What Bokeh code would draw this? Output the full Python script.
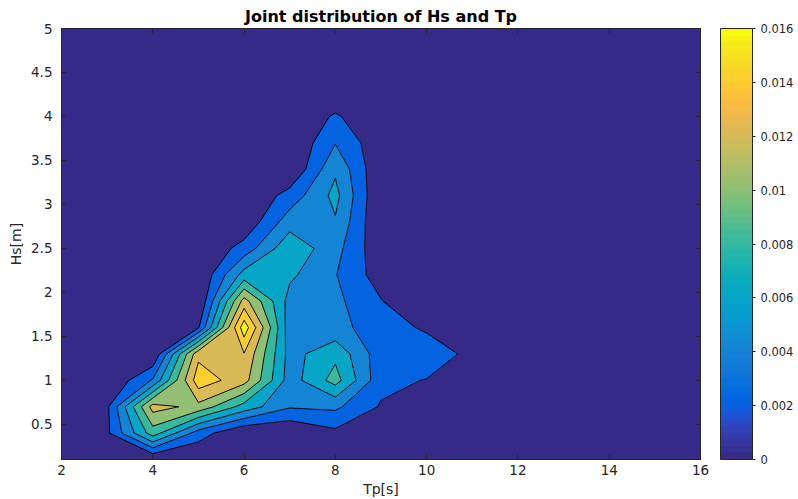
import numpy as np
from bokeh.plotting import figure
from bokeh.models import (ColorBar, LinearColorMapper, FixedTicker,
                          CustomJSTickFormatter, LinearAxis)
from bokeh.embed import file_html
from bokeh.resources import INLINE

# ---------------- data ----------------
tp = [2, 3, 4, 5, 6, 7, 8, 9, 10, 11, 12, 13, 14, 15, 16]
hs = [0.1, 0.4, 0.7, 1.0, 1.3, 1.6, 1.9, 2.2, 2.5, 2.8, 3.1, 3.4, 3.7, 4.0, 4.3, 4.6, 4.9]

# joint probability density per Tp column, one value per Hs row
dens_tp2 = [0, 0, 0, 0, 0, 0, 0, 0, 0, 0, 0, 0, 0, 0, 0, 0, 0]
dens_tp3 = [0.0003, 0.0016, 0.0016, 0, 0, 0, 0, 0, 0, 0, 0, 0, 0, 0, 0, 0, 0]
dens_tp4 = [0, 0.009, 0.0128, 0.0042, 0, 0, 0, 0, 0, 0, 0, 0, 0, 0, 0, 0, 0]
dens_tp5 = [0, 0.003, 0.0114, 0.0152, 0.01345, 0.0018, 0, 0, 0, 0, 0, 0, 0, 0, 0, 0, 0]
dens_tp6 = [0, 0, 0.0072, 0.0128, 0.0139, 0.0172, 0.0128, 0.0068, 0.0028, 0.0004, 0, 0, 0, 0, 0, 0, 0]
dens_tp7 = [0, 0, 0.0042, 0.005, 0.0052, 0.0048, 0.0052, 0.0064, 0.0075, 0.0051, 0.0028, 0, 0, 0, 0, 0, 0]
dens_tp8 = [0, 0.0015, 0.0044, 0.0088, 0.0075, 0.0045, 0.0045, 0.0041, 0.0047, 0.0058, 0.0066, 0.0057, 0.0039, 0.0023, 0, 0, 0]
dens_tp9 = [0, 0, 0.0018, 0.0026, 0.0028, 0.0032, 0.0021, 0.001, 0.0005, 0, 0, 0.0002, 0.0005, 0, 0, 0, 0]
dens_tp10 = [0, 0, 0, 0.0019, 0.0035, 0.0016, 0, 0, 0, 0, 0, 0, 0, 0, 0, 0, 0]
dens_tp11 = [0, 0, 0, 0, 0.0013, 0, 0, 0, 0, 0, 0, 0, 0, 0, 0, 0, 0]
dens_tp12 = [0, 0, 0, 0, 0, 0, 0, 0, 0, 0, 0, 0, 0, 0, 0, 0, 0]
dens_tp13 = [0, 0, 0, 0, 0, 0, 0, 0, 0, 0, 0, 0, 0, 0, 0, 0, 0]
dens_tp14 = [0, 0, 0, 0, 0, 0, 0, 0, 0, 0, 0, 0, 0, 0, 0, 0, 0]
dens_tp15 = [0, 0, 0, 0, 0, 0, 0, 0, 0, 0, 0, 0, 0, 0, 0, 0, 0]
dens_tp16 = [0, 0, 0, 0, 0, 0, 0, 0, 0, 0, 0, 0, 0, 0, 0, 0, 0]

contour_levels = [0.002, 0.004, 0.006, 0.008, 0.010, 0.012, 0.014, 0.016, 0.018]
x_ticks = [2, 4, 6, 8, 10, 12, 14, 16]
y_ticks = [0.5, 1, 1.5, 2, 2.5, 3, 3.5, 4, 4.5, 5]
cbar_ticks = [0, 0.002, 0.004, 0.006, 0.008, 0.01, 0.012, 0.014, 0.016]

# MATLAB parula (64 entries)
PARULA_RGB = [
    (0.2081, 0.1663, 0.5292), (0.2116, 0.1898, 0.5777), (0.2123, 0.2138, 0.6270), (0.2081, 0.2386, 0.6771),
    (0.1959, 0.2645, 0.7279), (0.1707, 0.2919, 0.7792), (0.1253, 0.3242, 0.8303), (0.0591, 0.3598, 0.8683),
    (0.0117, 0.3875, 0.8820), (0.0060, 0.4086, 0.8828), (0.0165, 0.4266, 0.8786), (0.0329, 0.4430, 0.8720),
    (0.0498, 0.4586, 0.8641), (0.0629, 0.4737, 0.8554), (0.0723, 0.4887, 0.8467), (0.0779, 0.5040, 0.8384),
    (0.0793, 0.5200, 0.8312), (0.0749, 0.5375, 0.8263), (0.0641, 0.5570, 0.8240), (0.0488, 0.5772, 0.8228),
    (0.0343, 0.5966, 0.8199), (0.0265, 0.6137, 0.8135), (0.0239, 0.6287, 0.8038), (0.0231, 0.6418, 0.7913),
    (0.0228, 0.6535, 0.7768), (0.0267, 0.6642, 0.7607), (0.0384, 0.6743, 0.7436), (0.0590, 0.6838, 0.7254),
    (0.0843, 0.6928, 0.7062), (0.1133, 0.7015, 0.6859), (0.1453, 0.7098, 0.6646), (0.1801, 0.7177, 0.6424),
    (0.2178, 0.7250, 0.6193), (0.2586, 0.7317, 0.5954), (0.3022, 0.7376, 0.5712), (0.3482, 0.7424, 0.5473),
    (0.3953, 0.7459, 0.5244), (0.4420, 0.7481, 0.5033), (0.4871, 0.7491, 0.4840), (0.5300, 0.7491, 0.4661),
    (0.5709, 0.7485, 0.4494), (0.6099, 0.7473, 0.4337), (0.6473, 0.7456, 0.4188), (0.6834, 0.7435, 0.4044),
    (0.7184, 0.7411, 0.3905), (0.7525, 0.7384, 0.3768), (0.7858, 0.7356, 0.3633), (0.8185, 0.7327, 0.3498),
    (0.8507, 0.7299, 0.3360), (0.8824, 0.7274, 0.3217), (0.9139, 0.7258, 0.3063), (0.9450, 0.7261, 0.2886),
    (0.9739, 0.7314, 0.2666), (0.9938, 0.7455, 0.2403), (0.9990, 0.7653, 0.2164), (0.9955, 0.7861, 0.1967),
    (0.9880, 0.8066, 0.1794), (0.9789, 0.8271, 0.1633), (0.9697, 0.8481, 0.1475), (0.9626, 0.8705, 0.1309),
    (0.9589, 0.8949, 0.1132), (0.9598, 0.9218, 0.0948), (0.9661, 0.9514, 0.0755), (0.9763, 0.9831, 0.0538),
]
PARULA = ["#%02x%02x%02x" % tuple(int(round(c * 255)) for c in rgb) for rgb in PARULA_RGB]

# ---------------- figure ----------------
AX = "#262626"
FONT = "DejaVu Sans"

z = np.array([dens_tp2, dens_tp3, dens_tp4, dens_tp5, dens_tp6, dens_tp7, dens_tp8,
              dens_tp9, dens_tp10, dens_tp11, dens_tp12, dens_tp13, dens_tp14,
              dens_tp15, dens_tp16], dtype=float).T

p = figure(width=798, height=499, x_range=(2, 16), y_range=(0.1, 5),
           output_backend="svg", toolbar_location=None,
           title="Joint distribution of Hs and Tp")
p.min_border_left = 61
p.min_border_right = 98
p.min_border_top = 28
p.min_border_bottom = 39
p.background_fill_color = PARULA[0]
p.border_fill_color = "white"
p.outline_line_color = AX
p.outline_line_width = 1
p.grid.visible = False

p.title.text_font = FONT
p.title.text_font_size = "16px"
p.title.text_font_style = "bold"
p.title.text_color = "black"
p.title.align = "center"
p.title.standoff = 5

fill_cols = [PARULA[8], PARULA[16], PARULA[24], PARULA[32], PARULA[40],
             PARULA[48], PARULA[56], PARULA[63]]
p.contour(tp, hs, z, contour_levels, fill_color=fill_cols,
          line_color="black", line_width=0.9)


def style_axis(ax, labels=True, size="13.5px", standoff=5):
    ax.major_tick_in = 5
    ax.major_tick_out = 0
    ax.minor_tick_line_color = None
    ax.axis_line_color = AX
    ax.major_tick_line_color = AX
    ax.major_label_text_font = FONT
    ax.major_label_text_font_size = size
    ax.major_label_standoff = standoff
    # box-side axes carry only tick marks; their labels are not painted
    ax.major_label_text_color = AX if labels else None


fmt = CustomJSTickFormatter(code="return tick.toString();")

xa = p.xaxis[0]
xa.ticker = FixedTicker(ticks=x_ticks)
xa.formatter = fmt
style_axis(xa)
xa.axis_label = "Tp[s]"
xa.axis_label_text_font = FONT
xa.axis_label_text_font_size = "14px"
xa.axis_label_text_font_style = "normal"
xa.axis_label_text_color = AX
xa.axis_label_standoff = 3

ya = p.yaxis[0]
ya.ticker = FixedTicker(ticks=y_ticks)
ya.formatter = fmt
style_axis(ya, standoff=9)
ya.axis_label = "Hs[m]"
ya.axis_label_text_font = FONT
ya.axis_label_text_font_size = "14px"
ya.axis_label_text_font_style = "normal"
ya.axis_label_text_color = AX
ya.axis_label_standoff = 4

top_ax = LinearAxis(ticker=FixedTicker(ticks=x_ticks), formatter=fmt)
style_axis(top_ax, labels=False, size="1px", standoff=0)
p.add_layout(top_ax, "above")

right_ax = LinearAxis(ticker=FixedTicker(ticks=y_ticks), formatter=fmt)
style_axis(right_ax, labels=False, size="13px", standoff=0)
p.add_layout(right_ax, "right")

mapper = LinearColorMapper(palette=PARULA, low=0, high=0.016)
cbar = ColorBar(color_mapper=mapper, ticker=FixedTicker(ticks=cbar_ticks),
                formatter=fmt, width=32, padding=0,
                label_standoff=5, major_tick_in=0, major_tick_out=3,
                major_tick_line_color=AX, bar_line_color=AX,
                major_label_text_font=FONT, major_label_text_font_size="11.5px",
                major_label_text_color=AX, location=(20, 0))
p.add_layout(cbar, "right")

open("out.html", "w").write(file_html(p, INLINE))
